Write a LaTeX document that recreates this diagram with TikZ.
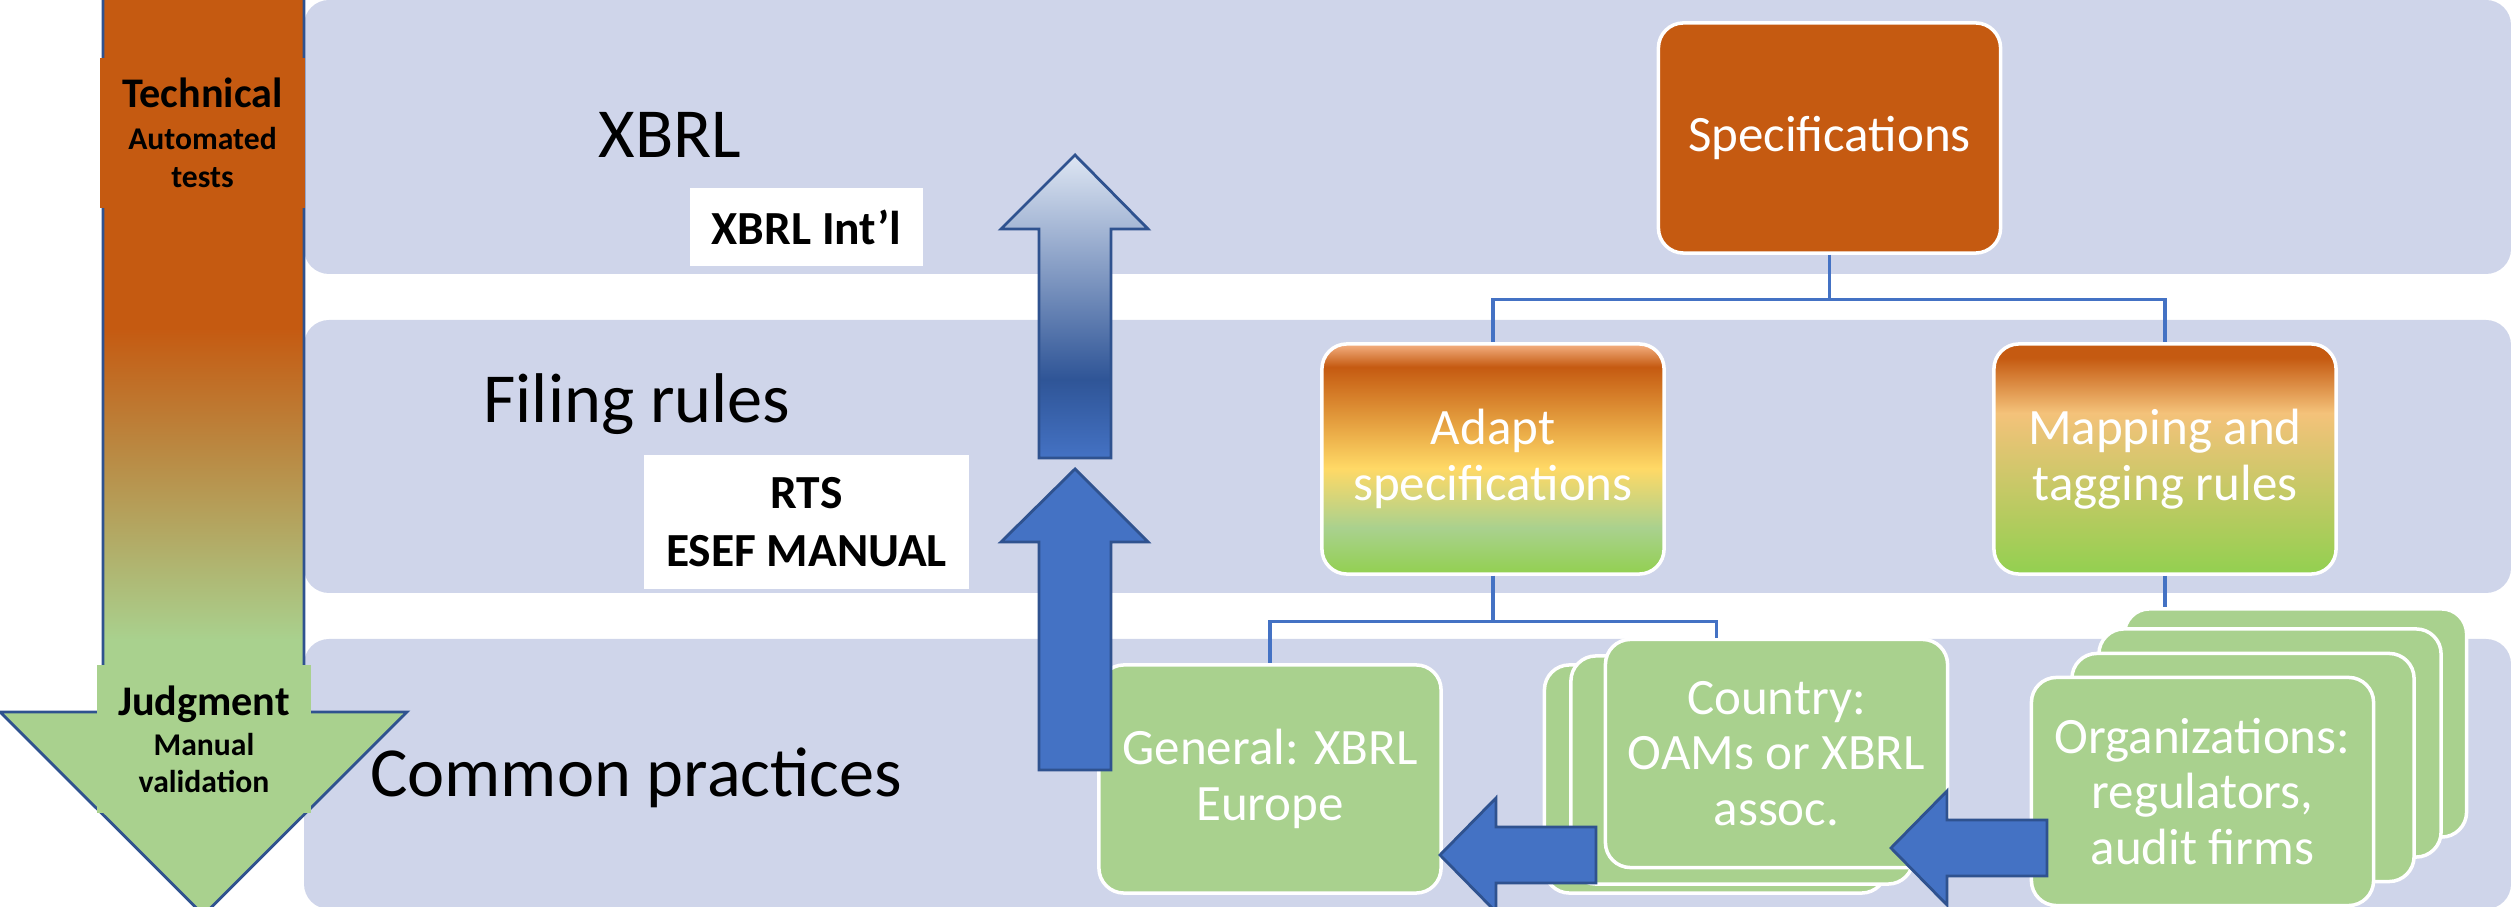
\documentclass[tikz,border=0pt]{standalone}
\usepackage{fontspec}
\setmainfont{Carlito}
\usetikzlibrary{calc}

\definecolor{bandblue}{HTML}{CFD5EA}
\definecolor{burnt}{HTML}{C55A11}
\definecolor{sage}{HTML}{A9D18E}
\definecolor{lime}{HTML}{92D050}
\definecolor{peach}{HTML}{F4B183}
\definecolor{apricot}{HTML}{F4C27A}
\definecolor{sun}{HTML}{FFD966}
\definecolor{steel}{HTML}{4472C4}
\definecolor{navy}{HTML}{2F528F}
\definecolor{deepblue}{HTML}{2F5597}
\definecolor{mist}{HTML}{DEE6F3}

\pgfdeclareverticalshading{adaptfill}{100bp}{color(0bp)=(lime); color(25bp)=(lime); color(35bp)=(sage); color(48bp)=(sun); color(70bp)=(burnt); color(75bp)=(peach); color(100bp)=(peach)}
\pgfdeclareverticalshading{mapfill}{100bp}{color(0bp)=(lime); color(25bp)=(lime); color(60bp)=(apricot); color(72bp)=(burnt); color(100bp)=(burnt)}
\pgfdeclareverticalshading{judgefade}{100bp}{color(0bp)=(sage); color(40bp)=(sage); color(57bp)=(burnt); color(100bp)=(burnt)}
\pgfdeclareverticalshading{risefade}{100bp}{color(0bp)=(steel); color(25bp)=(steel); color(38bp)=(deepblue); color(75bp)=(mist); color(100bp)=(mist)}

\begin{document}
\begin{tikzpicture}[x=0.01cm, y=-0.01cm, font=\fontsize{14.5}{15.8}\selectfont,
    band/.style={fill=bandblue, rounded corners=0.25cm},
    tile/.style={draw=white, line width=1pt, rounded corners=0.25cm, text=white, align=center,
      minimum width=3.42cm, minimum height=2.28cm, inner sep=0pt},
    layer/.style={anchor=base, font=\fontsize{20}{24}\selectfont},
    tag/.style={fill=white, align=center, font=\bfseries\fontsize{13.5}{16.5}\selectfont},
    conn/.style={draw=steel, line width=0.9pt},
    blockarrow/.style={fill=steel, draw=navy, line width=0.8pt}]
        \useasboundingbox (0,0) rectangle (2511,907);
        % bands
        \fill[band] (304,0) rectangle (2511,274);
        \fill[band] (304,320) rectangle (2511,593);
        \fill[band] (304,639) rectangle (2511,909);

        % technical -> judgment
        \shadedraw[shading=judgefade, draw=navy, line width=0.8pt] (103,-2) -- (304,-2) -- (304,712)
          -- (407,712) -- (203.5,915) -- (0,712) -- (103,712) -- cycle;
        \node[fill=burnt, minimum width=2.05cm, minimum height=1.5cm, align=center,
          font=\bfseries\fontsize{9}{10.8}\selectfont] (tech) at (202.5,133)
          {{\fontsize{12}{14}\selectfont Technical}\\[1.2pt]Automated\\tests};
        \node[fill=sage, minimum width=2.14cm, minimum height=1.48cm, align=center,
          font=\bfseries\fontsize{9}{10.4}\selectfont] (judge) at (204,739)
          {{\fontsize{12}{14}\selectfont Judgment}\\[1.2pt]Manual\\validation};

        % layer names
        \node[layer] (xbrl) at (670,158) {XBRL};
        \node[layer] (filing) at (637,423) {Filing rules};
        \node[layer] (common) at (636,797) {Common practices};
        \node[tag, minimum width=2.33cm, minimum height=0.78cm] (intl) at (806.5,227) {XBRL Int’l};
        \node[tag, minimum width=3.25cm, minimum height=1.34cm] (rts) at (806.5,522) {RTS\\ESEF MANUAL};

        % tree
        \node[tile, fill=burnt, minimum height=2.30cm] (spec) at (1829.5,138) {Specifications};
        \node[tile, shade, shading=adaptfill, minimum height=2.30cm] (adapt) at (1493,459) {Adapt\\specifications};
        \node[tile, shade, shading=mapfill, minimum height=2.30cm] (mapping) at (2165,459) {Mapping and\\tagging rules};
        \node[tile, fill=sage] (general) at (1270,779) {General: XBRL\\Europe};

        \foreach \cx/\cy/\cn in {1715.5/779/cntryC, 1742/770/cntryB}
          \node[tile, fill=sage] (\cn) at (\cx,\cy) {};
        \node[tile, fill=sage] (cntry) at (1776.5,753.5) {Country:\\OAMs or XBRL\\assoc.};

        \foreach \ox/\oy/\on in {2295.5/723/orgD, 2270/743/orgC, 2243/767.5/orgB}
          \node[tile, fill=sage] (\on) at (\ox,\oy) {};
        \node[tile, fill=sage] (org) at (2202.5,791.5) {Organizations:\\regulators,\\audit firms};

        \draw[conn] (spec.south) -- ++(0,45) -| (adapt.north);
        \draw[conn] (spec.south) -- ++(0,45) -| (mapping.north);
        \draw[conn] (adapt.south) -- ++(0,46) -| (general.north);
        \draw[conn] (adapt.south) -- ++(0,46) -| ($(cntry.north west)!0.327!(cntry.north east)$);
        \draw[conn] (mapping.south) -- (mapping.south |- orgD.north);

        % up arrows
        \shadedraw[shading=risefade, draw=navy, line width=0.8pt] (1039,458) -- (1039,229) -- (1001,229)
          -- (1075,155) -- (1148,229) -- (1111,229) -- (1111,458) -- cycle;
        \filldraw[blockarrow] (1039,770) -- (1039,542) -- (1001,542) -- (1075,469)
          -- (1148,542) -- (1111,542) -- (1111,770) -- cycle;

        % left arrows
        \foreach \tx/\ty in {1440/855, 1891/848} {
          \filldraw[blockarrow] (\tx+156,\ty-28) -- (\tx+56,\ty-28) -- (\tx+56,\ty-57) -- (\tx,\ty)
            -- (\tx+56,\ty+57) -- (\tx+56,\ty+28) -- (\tx+156,\ty+28) -- cycle;
        }
\end{tikzpicture}
\end{document}
